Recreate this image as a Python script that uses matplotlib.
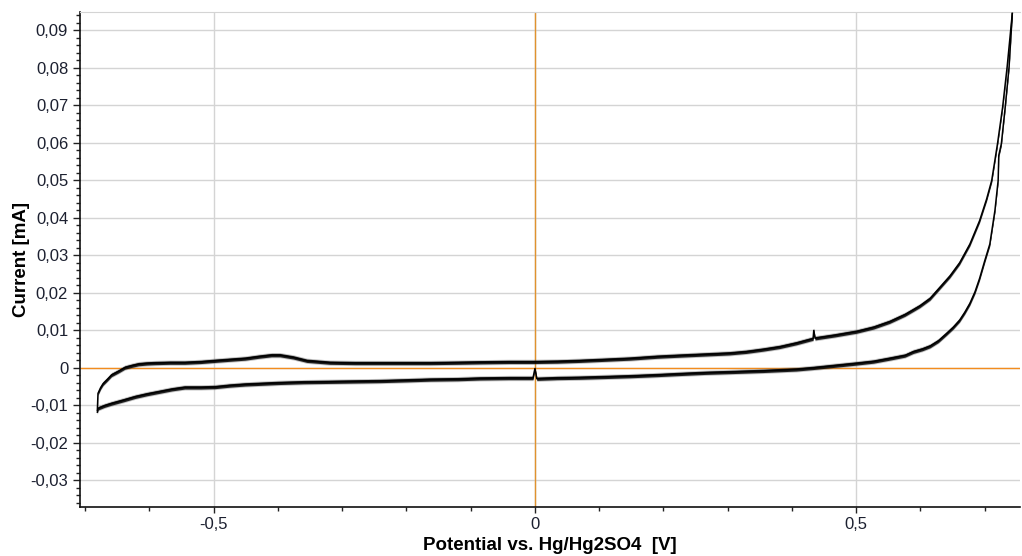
import matplotlib
matplotlib.use("Agg")
import matplotlib.pyplot as plt
from matplotlib.ticker import MultipleLocator, FuncFormatter

plt.rcParams['font.family'] = ['Liberation Sans', 'DejaVu Sans']

# forward scan (anodic branch), potential in V, current in mA
E_fwd = [-0.681, -0.6805, -0.680, -0.676, -0.672, -0.665, -0.659, -0.648, -0.638, -0.627,
         -0.617, -0.604, -0.591, -0.568, -0.545, -0.52, -0.498, -0.475, -0.451, -0.43,
         -0.41, -0.397, -0.376, -0.355, -0.319, -0.28, -0.241, -0.2, -0.163, -0.12,
         -0.086, -0.04, -0.003, 0.035, 0.070, 0.11, 0.148, 0.19, 0.226, 0.265,
         0.303, 0.329, 0.355, 0.381, 0.407, 0.433, 0.434, 0.436, 0.467, 0.501,
         0.527, 0.552, 0.576, 0.599, 0.615, 0.630, 0.646, 0.661, 0.677, 0.692,
         0.703, 0.711, 0.720, 0.728, 0.735, 0.743]
I_fwd = [-0.0113, -0.0090, -0.0068, -0.0053, -0.0042, -0.0030, -0.0019, -0.0009, 0.0001, 0.0006,
         0.0010, 0.0012, 0.0013, 0.0014, 0.0014, 0.0016, 0.0019, 0.0022, 0.0025, 0.0030,
         0.0034, 0.0034, 0.0028, 0.0019, 0.0014, 0.0013, 0.0013, 0.0013, 0.0013, 0.0014,
         0.0015, 0.0016, 0.0016, 0.0017, 0.0019, 0.0022, 0.0025, 0.0030, 0.0033, 0.0036,
         0.0039, 0.0043, 0.0049, 0.0056, 0.0066, 0.0078, 0.0100, 0.0079, 0.0087, 0.0097,
         0.0108, 0.0123, 0.0142, 0.0165, 0.0185, 0.0214, 0.0245, 0.0280, 0.0330, 0.0392,
         0.0450, 0.0500, 0.0598, 0.0696, 0.0803, 0.0945]

# reverse scan (cathodic branch), stored with increasing potential
E_rev = [-0.681, -0.680, -0.670, -0.659, -0.640, -0.622, -0.604, -0.586, -0.565, -0.545,
         -0.52, -0.498, -0.475, -0.451, -0.425, -0.399, -0.36, -0.319, -0.28, -0.241,
         -0.2, -0.163, -0.12, -0.086, -0.04, -0.003, 0.0, 0.003, 0.035, 0.070,
         0.11, 0.148, 0.19, 0.226, 0.265, 0.303, 0.355, 0.381, 0.407, 0.433,
         0.467, 0.501, 0.527, 0.552, 0.576, 0.589, 0.603, 0.615, 0.628, 0.641,
         0.651, 0.661, 0.669, 0.677, 0.685, 0.692, 0.700, 0.708, 0.716, 0.721,
         0.722, 0.726, 0.732, 0.738, 0.743]
I_rev = [-0.0118, -0.0108, -0.0101, -0.0095, -0.0086, -0.0077, -0.0070, -0.0064, -0.0057, -0.0052,
         -0.0052, -0.0051, -0.0047, -0.0044, -0.0042, -0.0040, -0.0038, -0.0037, -0.0036, -0.0035,
         -0.0033, -0.0031, -0.0030, -0.0028, -0.0027, -0.0027, -0.0002, -0.0029, -0.0027, -0.0026,
         -0.0024, -0.0022, -0.0019, -0.0016, -0.0013, -0.0011, -0.0008, -0.0006, -0.0004, 0.0000,
         0.0006, 0.0012, 0.0017, 0.0025, 0.0033, 0.0043, 0.0050, 0.0058, 0.0072, 0.0092,
         0.0108, 0.0127, 0.0148, 0.0172, 0.0203, 0.0238, 0.0285, 0.0330, 0.0420, 0.0500,
         0.0567, 0.0598, 0.0696, 0.0803, 0.0945]

# half-widths of the noisy trace (solid core and grey fringe)
NOISE_CORE = 0.00045
NOISE_FRINGE = 0.0007


def fmt_y(v, pos):
    if abs(v) < 1e-9:
        return '0'
    return f'{v:.2f}'.replace('.', ',')


def fmt_x(v, pos):
    if abs(v) < 1e-9:
        return '0'
    return f'{v:.1f}'.replace('.', ',')


fig = plt.figure(figsize=(10.22, 5.56), dpi=100)
ax = fig.add_axes([80 / 1022, 49 / 556, 940 / 1022, 495 / 556])

ax.set_xlim(-0.708, 0.755)
ax.set_ylim(-0.0371, 0.0949)

ax.xaxis.set_major_locator(MultipleLocator(0.5))
ax.xaxis.set_minor_locator(MultipleLocator(0.1))
ax.yaxis.set_major_locator(MultipleLocator(0.01))
ax.yaxis.set_minor_locator(MultipleLocator(0.002))
ax.xaxis.set_major_formatter(FuncFormatter(fmt_x))
ax.yaxis.set_major_formatter(FuncFormatter(fmt_y))

ax.grid(True, which='major', color='#d4d4d4', linewidth=1.0, zorder=0)
ax.axhline(0, color='#f28c1e', linewidth=1.0, zorder=2)
ax.axvline(0, color='#e0922e', linewidth=1.0, zorder=2)

for E, I in ((E_fwd, I_fwd), (E_rev, I_rev)):
    ax.fill_between(E, [i - NOISE_FRINGE for i in I], [i + NOISE_FRINGE for i in I],
                    color='#555555', alpha=0.35, linewidth=0, zorder=3)
    ax.fill_between(E, [i - NOISE_CORE for i in I], [i + NOISE_CORE for i in I],
                    color='black', alpha=0.85, linewidth=0, zorder=3)
    ax.plot(E, I, color='black', linewidth=1.1, zorder=4)

ax.tick_params(axis='both', which='major', labelsize=12, labelcolor='#1c2030',
               direction='out', length=5, width=1, color='#222222')
ax.tick_params(axis='both', which='minor', direction='out', length=3, width=1, color='#222222')
ax.tick_params(axis='x', which='major', length=4, pad=3)

for side in ('left', 'bottom'):
    ax.spines[side].set_color('#111111')
    ax.spines[side].set_linewidth(1.2)
ax.spines['top'].set_color('#d4d4d4')
ax.spines['right'].set_visible(False)

ax.set_xlabel('Potential vs. Hg/Hg2SO4  [V]', fontsize=13.5, fontweight='bold', labelpad=3.5)
ax.set_ylabel('Current [mA]', fontsize=13.5, fontweight='bold', labelpad=0)

fig.savefig('out.png', dpi=100)
